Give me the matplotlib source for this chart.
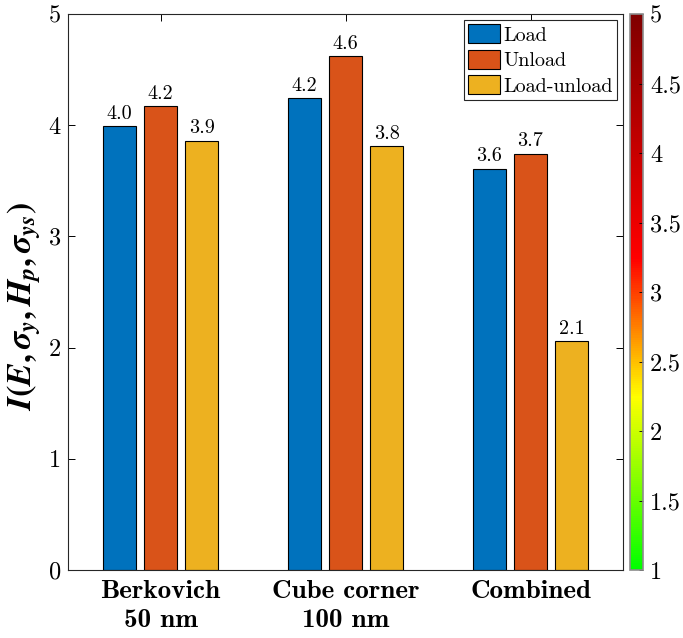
import numpy as np
import matplotlib
matplotlib.use("Agg")
import matplotlib.pyplot as plt
from matplotlib.colors import LinearSegmentedColormap, Normalize
import matplotlib.cm as cm

# --- data ---
groups = ["Berkovich\n50 nm", "Cube corner\n100 nm", "Combined"]
series = ["Load", "Unload", "Load-unload"]
load_vals = [3.99, 4.245, 3.61]
unload_vals = [4.17, 4.62, 3.745]
loadunload_vals = [3.86, 3.81, 2.06]
bar_colors = ["#0072BD", "#D95319", "#EDB120"]

cbar_ticks = [1, 1.5, 2, 2.5, 3, 3.5, 4, 4.5, 5]
cbar_labels = ["1", "1.5", "2", "2.5", "3", "3.5", "4", "4.5", "5"]

plt.rcParams["font.family"] = "cmr10"
plt.rcParams["mathtext.fontset"] = "custom"
plt.rcParams["mathtext.it"] = "STIXGeneral:bold:italic"
plt.rcParams["mathtext.rm"] = "STIXGeneral:bold"
plt.rcParams["axes.unicode_minus"] = False

fig = plt.figure(figsize=(6.83, 6.38), dpi=100)
ax = fig.add_axes([68 / 683, 68 / 638, 555 / 683, 556 / 638])

x = np.arange(1, len(groups) + 1)
w = 0.18
step = 0.222
all_vals = [load_vals, unload_vals, loadunload_vals]
for i, (name, vals, col) in enumerate(zip(series, all_vals, bar_colors)):
    pos = x + (i - 1) * step
    bars = ax.bar(pos, vals, width=w, color=col, edgecolor="black",
                  linewidth=0.8, label=name, zorder=2)
    for b, v in zip(bars, vals):
        ax.text(b.get_x() + b.get_width() / 2, v + 0.03, f"{v:.1f}",
                ha="center", va="bottom", fontsize=14.5)

ax.set_xlim(0.5, 3.5)
ax.set_ylim(0, 5)
ax.set_xticks(x)
ax.set_xticklabels(groups, fontfamily="cmb10", fontsize=19.5, linespacing=1.35)
ax.set_yticks(range(6))
ax.tick_params(axis="y", labelsize=17.5, direction="in", right=True, length=5,
               width=0.7, pad=5)
ax.tick_params(axis="x", direction="in", top=True, length=5, width=0.7, pad=7)
for s in ax.spines.values():
    s.set_linewidth(0.8)
    s.set_color("#262626")
ax.set_ylabel(r"$I(E,\sigma_y,H_p,\sigma_{ys})$", fontsize=24.5)
ax.yaxis.set_label_coords(-0.045, 0.473)

leg = ax.legend(loc="upper right", fontsize=14.5, frameon=True, fancybox=False,
                edgecolor="#262626", framealpha=1, handlelength=1.6,
                handleheight=1.1, handletextpad=0.15, borderpad=0.2,
                labelspacing=0.25, borderaxespad=0.3)
leg.get_frame().set_linewidth(0.8)

# colour scale from green through yellow/orange/red to dark red
cmap = LinearSegmentedColormap.from_list(
    "gyr",
    [(0.0, (0.0, 1.0, 0.0)),
     (0.31, (1.0, 1.0, 0.0)),
     (0.40, (1.0, 0.65, 0.0)),
     (0.56, (1.0, 0.0, 0.0)),
     (1.0, (0.5, 0.0, 0.0))])
cax = fig.add_axes([630 / 683, 68 / 638, 13 / 683, 556 / 638])
sm = cm.ScalarMappable(norm=Normalize(1, 5), cmap=cmap)
cb = fig.colorbar(sm, cax=cax, ticks=cbar_ticks)
cb.ax.set_yticklabels(cbar_labels)
cb.ax.tick_params(labelsize=17.5, direction="in", length=3, width=0.6, pad=5)
cb.outline.set_edgecolor("#8c8c8c")
cb.outline.set_linewidth(1.2)

fig.savefig("out.png", dpi=100)
